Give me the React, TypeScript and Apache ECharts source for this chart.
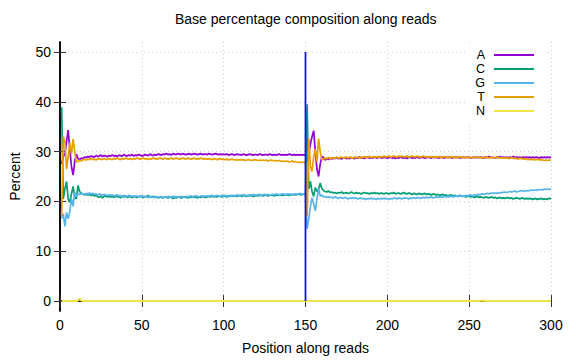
import React, { useEffect, useRef } from 'react';
import * as echarts from 'echarts';

const FONT = "'Liberation Sans', Arial, sans-serif";

const TITLE = 'Base percentage composition along reads';
const X_NAME = 'Position along reads';
const Y_NAME = 'Percent';
const BASES = ['A', 'C', 'G', 'T', 'N'];
const COLORS = ['#9400d3', '#009e73', '#56b4e9', '#e69f00', '#f0e442'];
const Y_TICKS = [0, 10, 20, 30, 40, 50];
const DIVIDER_X = 150;
const DIVIDER_Y = [0, 50];

const A_VALUES = [
  27.5, 29.0, 29.5, 32.0, 34.3, 30.5, 27.0, 25.3, 28.0, 29.5, 28.6, 28.4, 28.7, 28.6, 28.9,
  28.8, 29.0, 28.9, 29.1, 29.0, 28.9, 29.2, 29.0, 29.1, 29.3, 29.0, 29.2, 29.1, 29.0, 29.2,
  29.1, 29.3, 29.1, 29.2, 29.0, 29.3, 29.2, 29.1, 29.4, 29.2, 29.1, 29.3, 29.2, 29.4, 29.1,
  29.3, 29.2, 29.4, 29.3, 29.1, 29.2, 29.4, 29.3, 29.2, 29.5, 29.3, 29.2, 29.4, 29.3, 29.5,
  29.4, 29.3, 29.5, 29.4, 29.6, 29.4, 29.5, 29.3, 29.6, 29.5, 29.4, 29.6, 29.5, 29.4, 29.6,
  29.5, 29.4, 29.5, 29.6, 29.4, 29.5, 29.6, 29.5, 29.4, 29.5, 29.6, 29.4, 29.5, 29.5, 29.4,
  29.6, 29.5, 29.4, 29.5, 29.6, 29.5, 29.4, 29.5, 29.4, 29.5, 29.4, 29.5, 29.3, 29.4, 29.5,
  29.4, 29.3, 29.5, 29.4, 29.4, 29.3, 29.5, 29.4, 29.3, 29.4, 29.5, 29.4, 29.3, 29.4, 29.4,
  29.3, 29.5, 29.4, 29.3, 29.4, 29.4, 29.3, 29.5, 29.4, 29.3, 29.4, 29.3, 29.4, 29.5, 29.3,
  29.4, 29.3, 29.4, 29.3, 29.5, 29.4, 29.3, 29.4, 29.3, 29.4, 29.3, 29.4, 29.3, 29.4, 29.3,
  28.0, 29.5, 31.5, 33.0, 34.2, 30.0, 26.5, 25.0, 27.5, 29.0, 28.8, 28.3, 28.6, 28.4, 28.7,
  28.5, 28.7, 28.6, 28.8, 28.6, 28.7, 28.5, 28.7, 28.8, 28.6, 28.7, 28.6, 28.8, 28.7, 28.6,
  28.8, 28.7, 28.9, 28.7, 28.8, 28.6, 28.8, 28.9, 28.7, 28.8, 28.7, 28.9, 28.8, 28.7, 28.9,
  28.8, 28.7, 28.9, 28.8, 28.7, 28.8, 28.9, 28.7, 28.8, 28.6, 28.8, 28.7, 28.9, 28.8, 28.7,
  28.8, 28.6, 28.8, 28.9, 28.7, 28.8, 28.7, 28.9, 28.8, 28.7, 28.9, 28.8, 28.7, 28.8, 28.9,
  28.8, 28.7, 28.9, 28.8, 28.9, 28.7, 28.8, 28.9, 28.8, 28.7, 28.9, 28.8, 28.9, 28.8, 28.7,
  28.9, 28.8, 28.9, 28.8, 28.7, 28.9, 28.8, 28.9, 28.8, 28.9, 28.7, 28.8, 28.9, 28.8, 28.9,
  28.8, 28.9, 28.8, 28.7, 28.9, 28.8, 29.0, 28.8, 28.9, 28.8, 28.7, 28.9, 28.8, 29.0, 28.8,
  28.9, 28.8, 28.9, 28.7, 28.9, 28.8, 29.0, 28.8, 28.9, 28.8, 28.9, 28.7, 28.9, 28.8, 28.9,
  28.8, 28.9, 28.7, 28.9, 28.8, 28.9, 28.8, 28.7, 28.9, 28.8, 28.9, 28.8, 28.9, 28.8, 28.9,
];

const C_VALUES = [
  38.9, 20.5, 22.5, 24.0, 20.5, 19.8, 21.5, 23.0, 20.8, 20.5, 23.2, 22.0, 21.6, 21.5, 21.3,
  21.5, 21.3, 21.4, 21.2, 21.3, 21.1, 21.2, 21.0, 20.8, 21.1, 20.7, 21.0, 21.1, 20.9, 21.0,
  20.9, 21.0, 20.8, 21.1, 20.9, 21.0, 20.7, 21.0, 20.9, 21.1, 20.8, 20.9, 21.0, 20.8, 20.9,
  21.0, 20.8, 20.9, 21.1, 20.9, 20.8, 21.0, 20.9, 21.2, 20.8, 20.9, 21.0, 20.8, 20.9, 20.7,
  20.9, 20.8, 20.7, 20.9, 20.8, 20.7, 20.9, 20.8, 20.6, 20.8, 20.7, 20.9, 20.8, 20.7, 20.8,
  20.9, 20.8, 20.7, 20.9, 20.8, 21.0, 20.8, 20.9, 20.7, 20.9, 20.8, 21.0, 20.9, 20.8, 20.9,
  21.0, 20.9, 21.1, 20.9, 21.0, 20.9, 21.1, 21.0, 20.9, 21.1, 21.0, 20.9, 21.1, 21.0, 21.2,
  21.0, 21.1, 21.0, 21.2, 21.1, 21.0, 21.2, 21.1, 21.0, 21.2, 21.1, 21.2, 21.0, 21.1, 21.2,
  21.1, 21.2, 21.3, 21.1, 21.2, 21.3, 21.1, 21.2, 21.3, 21.2, 21.1, 21.3, 21.2, 21.3, 21.2,
  21.3, 21.2, 21.4, 21.3, 21.2, 21.4, 21.3, 21.4, 21.3, 21.4, 21.5, 21.3, 21.4, 21.5, 21.4,
  39.5, 22.5, 24.0, 22.0, 21.0, 22.8, 22.0, 22.5, 23.7, 22.6, 22.2, 22.0, 21.9, 22.1, 21.8,
  21.9, 21.7, 21.8, 21.6, 21.8, 21.7, 21.9, 21.6, 21.7, 21.8, 21.6, 21.7, 21.9, 21.7, 21.6,
  21.8, 21.6, 21.7, 21.5, 21.7, 21.8, 21.6, 21.7, 21.5, 21.7, 21.6, 21.8, 21.6, 21.7, 21.5,
  21.7, 21.6, 21.5, 21.7, 21.6, 21.5, 21.7, 21.6, 21.8, 21.5, 21.6, 21.7, 21.5, 21.6, 21.8,
  21.6, 21.5, 21.7, 21.6, 21.4, 21.6, 21.5, 21.4, 21.6, 21.5, 21.4, 21.5, 21.6, 21.4, 21.5,
  21.4, 21.3, 21.5, 21.4, 21.3, 21.4, 21.2, 21.3, 21.4, 21.2, 21.3, 21.1, 21.2, 21.3, 21.1,
  21.2, 21.1, 21.0, 21.2, 21.1, 21.0, 21.1, 20.9, 21.0, 21.1, 20.9, 21.0, 20.8, 20.9, 21.0,
  20.8, 20.9, 20.8, 20.7, 20.9, 20.8, 20.7, 20.8, 20.9, 20.7, 20.8, 20.6, 20.7, 20.8, 20.6,
  20.7, 20.6, 20.8, 20.7, 20.6, 20.7, 20.5, 20.6, 20.7, 20.6, 20.5, 20.7, 20.6, 20.5, 20.6,
  20.5, 20.6, 20.5, 20.4, 20.6, 20.5, 20.4, 20.5, 20.6, 20.4, 20.5, 20.4, 20.5, 20.6, 20.5,
];

const G_VALUES = [
  16.6, 17.5, 15.0, 17.8, 16.5, 18.0, 20.5, 19.0, 21.8, 21.0, 21.5, 21.4, 21.6, 21.5, 21.4,
  21.6, 21.5, 21.7, 21.5, 21.6, 21.4, 21.5, 21.3, 21.5, 21.4, 21.2, 21.4, 21.3, 21.2, 21.3,
  21.2, 21.3, 21.1, 21.2, 21.3, 21.1, 21.2, 21.0, 21.2, 21.1, 21.0, 21.2, 21.1, 21.0, 21.1,
  21.0, 21.1, 20.9, 21.0, 21.1, 21.0, 20.9, 21.0, 20.8, 21.0, 20.9, 20.8, 21.0, 20.9, 20.8,
  20.9, 21.0, 20.8, 20.9, 20.8, 21.0, 20.9, 20.8, 21.0, 20.9, 21.0, 20.8, 20.9, 21.0, 20.9,
  20.8, 21.0, 20.9, 21.0, 21.1, 20.9, 21.0, 21.1, 21.0, 20.9, 21.1, 21.0, 21.1, 21.0, 21.1,
  21.0, 21.1, 21.2, 21.0, 21.1, 21.2, 21.1, 21.0, 21.2, 21.1, 21.2, 21.1, 21.0, 21.2, 21.1,
  21.2, 21.1, 21.3, 21.2, 21.1, 21.3, 21.2, 21.3, 21.1, 21.2, 21.3, 21.2, 21.4, 21.3, 21.2,
  21.3, 21.4, 21.2, 21.3, 21.4, 21.3, 21.4, 21.2, 21.3, 21.4, 21.3, 21.5, 21.4, 21.3, 21.4,
  21.5, 21.4, 21.3, 21.5, 21.4, 21.5, 21.3, 21.4, 21.5, 21.4, 21.5, 21.6, 21.4, 21.5, 21.3,
  14.5, 16.5, 19.0, 20.7, 19.5, 18.1, 20.5, 22.7, 21.0, 21.3, 20.9, 21.0, 20.8, 20.9, 20.8,
  20.8, 20.7, 20.9, 20.8, 20.6, 20.8, 20.7, 20.6, 20.8, 20.7, 20.5, 20.7, 20.6, 20.8, 20.6,
  20.7, 20.5, 20.6, 20.7, 20.5, 20.6, 20.4, 20.6, 20.5, 20.7, 20.5, 20.6, 20.4, 20.6, 20.5,
  20.6, 20.5, 20.7, 20.5, 20.6, 20.4, 20.6, 20.5, 20.7, 20.6, 20.5, 20.7, 20.6, 20.5, 20.7,
  20.6, 20.7, 20.5, 20.7, 20.6, 20.8, 20.6, 20.7, 20.8, 20.6, 20.7, 20.8, 20.7, 20.9, 20.7,
  20.8, 20.9, 20.7, 20.8, 20.9, 20.8, 21.0, 20.8, 20.9, 21.0, 20.9, 21.0, 20.9, 21.1, 20.9,
  21.0, 21.1, 21.0, 21.2, 21.0, 21.1, 21.0, 21.2, 21.1, 21.2, 21.3, 21.1, 21.3, 21.2, 21.4,
  21.3, 21.4, 21.5, 21.4, 21.5, 21.6, 21.5, 21.6, 21.7, 21.6, 21.7, 21.6, 21.8, 21.7, 21.8,
  21.8, 21.9, 21.8, 21.9, 22.0, 21.9, 22.0, 22.1, 21.9, 22.0, 22.1, 22.2, 22.0, 22.1, 22.2,
  22.1, 22.2, 22.3, 22.2, 22.3, 22.2, 22.4, 22.3, 22.4, 22.3, 22.5, 22.4, 22.5, 22.4, 22.6,
];

const T_VALUES = [
  17.0, 33.0, 32.0, 26.5, 29.0, 31.8, 29.5, 32.5, 30.0, 28.0, 28.0, 28.2, 28.1, 28.4, 28.4,
  28.3, 28.5, 28.4, 28.6, 28.4, 28.5, 28.3, 28.5, 28.6, 28.4, 28.5, 28.6, 28.4, 28.5, 28.6,
  28.5, 28.4, 28.6, 28.5, 28.7, 28.5, 28.4, 28.6, 28.5, 28.7, 28.6, 28.5, 28.6, 28.4, 28.6,
  28.5, 28.7, 28.6, 28.5, 28.6, 28.7, 28.5, 28.6, 28.4, 28.6, 28.5, 28.7, 28.6, 28.5, 28.6,
  28.7, 28.6, 28.5, 28.7, 28.6, 28.5, 28.6, 28.7, 28.5, 28.6, 28.7, 28.6, 28.5, 28.6, 28.7,
  28.6, 28.5, 28.7, 28.6, 28.5, 28.6, 28.7, 28.5, 28.6, 28.5, 28.7, 28.6, 28.5, 28.6, 28.5,
  28.6, 28.5, 28.4, 28.6, 28.5, 28.4, 28.5, 28.6, 28.4, 28.5, 28.4, 28.5, 28.3, 28.4, 28.5,
  28.4, 28.3, 28.4, 28.3, 28.4, 28.3, 28.4, 28.2, 28.3, 28.4, 28.3, 28.2, 28.3, 28.4, 28.3,
  28.2, 28.3, 28.2, 28.3, 28.2, 28.3, 28.1, 28.2, 28.3, 28.2, 28.1, 28.2, 28.1, 28.2, 28.1,
  28.0, 28.1, 28.0, 28.1, 27.9, 28.0, 28.1, 27.9, 28.0, 27.9, 27.8, 27.9, 27.8, 27.9, 27.8,
  17.0, 32.6, 27.0, 26.0, 29.0, 30.5, 28.0, 32.6, 30.0, 28.3, 28.5, 28.7, 28.6, 28.8, 28.6,
  28.7, 28.8, 28.6, 28.9, 28.7, 28.8, 28.9, 28.7, 28.8, 28.9, 28.7, 28.9, 28.8, 28.7, 28.9,
  28.8, 28.9, 28.7, 28.9, 28.8, 29.0, 28.8, 28.9, 29.0, 28.8, 28.9, 29.0, 28.8, 29.0, 28.9,
  29.0, 28.9, 29.1, 28.9, 29.0, 29.1, 28.9, 29.0, 29.1, 29.0, 28.9, 29.1, 29.0, 29.1, 28.9,
  29.0, 29.1, 28.9, 29.0, 29.1, 29.0, 28.9, 29.1, 29.0, 28.9, 29.0, 29.1, 28.9, 29.0, 28.9,
  29.0, 28.9, 29.0, 28.8, 29.0, 28.9, 29.0, 28.8, 28.9, 29.0, 28.9, 28.8, 28.9, 29.0, 28.8,
  28.9, 28.8, 28.9, 29.0, 28.8, 28.9, 28.8, 28.9, 28.8, 28.9, 28.7, 28.9, 28.8, 28.9, 28.8,
  28.9, 28.8, 28.7, 28.9, 28.8, 28.9, 28.7, 28.8, 28.9, 28.7, 28.8, 28.9, 28.7, 28.8, 28.7,
  28.8, 28.7, 28.8, 28.6, 28.7, 28.8, 28.6, 28.7, 28.6, 28.5, 28.7, 28.6, 28.5, 28.6, 28.5,
  28.4, 28.5, 28.4, 28.5, 28.3, 28.4, 28.5, 28.3, 28.4, 28.3, 28.2, 28.3, 28.2, 28.3, 28.2,
];

const N_VALUES = [
  0, 0, 0, 0, 0, 0, 0, 0, 0, 0, 0.1, 0.5, 0.1, 0, 0,
  0, 0, 0, 0, 0, 0, 0, 0, 0, 0, 0, 0, 0, 0, 0,
  0, 0, 0, 0, 0, 0, 0, 0, 0, 0, 0, 0, 0, 0, 0,
  0, 0, 0, 0, 0, 0, 0, 0, 0, 0, 0, 0, 0, 0, 0,
  0, 0, 0, 0, 0, 0, 0, 0, 0, 0, 0, 0, 0, 0, 0,
  0, 0, 0, 0, 0, 0, 0, 0, 0, 0, 0, 0, 0, 0, 0,
  0, 0, 0, 0, 0, 0, 0, 0, 0, 0, 0, 0, 0, 0, 0,
  0, 0, 0, 0, 0, 0, 0, 0, 0, 0, 0, 0, 0, 0, 0,
  0, 0, 0, 0, 0, 0, 0, 0, 0, 0, 0, 0, 0, 0, 0,
  0, 0, 0, 0, 0, 0, 0, 0, 0, 0, 0, 0, 0, 0, 0,
  0, 0, 0, 0, 0, 0, 0, 0, 0, 0, 0, 0, 0, 0, 0,
  0, 0, 0, 0, 0, 0, 0, 0, 0, 0, 0, 0, 0, 0, 0,
  0, 0, 0, 0, 0, 0, 0, 0, 0, 0, 0, 0, 0, 0, 0,
  0, 0, 0, 0, 0, 0, 0, 0, 0, 0, 0, 0, 0, 0, 0,
  0, 0, 0, 0, 0, 0, 0, 0, 0, 0, 0, 0, 0, 0, 0,
  0, 0, 0, 0, 0, 0, 0, 0, 0, 0, 0, 0, 0, 0, 0,
  0, 0, 0, 0, 0, 0, 0, 0, 0, 0, 0, 0, 0, 0, 0,
  0, 0.05, 0.1, 0.05, 0, 0, 0, 0, 0, 0, 0, 0, 0, 0, 0,
  0, 0, 0, 0, 0, 0, 0, 0, 0, 0, 0, 0, 0, 0, 0,
  0, 0, 0, 0, 0, 0, 0, 0, 0, 0, 0, 0, 0, 0, 0,
];

const SERIES_VALUES = [A_VALUES, C_VALUES, G_VALUES, T_VALUES, N_VALUES];
const POSITIONS = A_VALUES.map((_, i) => i + 1);

function buildOption(): any {
  const lineSeries = BASES.map((name, k) => ({
    name,
    type: 'line',
    xAxisIndex: 0,
    yAxisIndex: 0,
    data: POSITIONS.map((p, i) => [p, SERIES_VALUES[k][i]]),
    symbol: 'none',
    showSymbol: false,
    color: COLORS[k],
    itemStyle: { color: COLORS[k] },
    lineStyle: { color: COLORS[k], width: k === 4 ? 2 : 1.7 },
    z: 2 + k * 0.1,
    silent: true,
  }));
  const divider = {
    name: 'divider',
    type: 'line',
    xAxisIndex: 0,
    yAxisIndex: 0,
    data: DIVIDER_Y.map((y) => [DIVIDER_X, y]),
    symbol: 'none',
    color: '#0000ff',
    lineStyle: { color: '#1010ff', width: 1.8 },
    z: 3,
    silent: true,
  };
  const axisLine = { show: true, lineStyle: { color: '#000', width: 1.5 } };
  const tick = { show: true, inside: true, length: 6, lineStyle: { color: '#333', width: 1 } };
  const split = { show: true, lineStyle: { color: '#cccccc', width: 1, type: [1, 3] } };
  const label = { color: '#000', fontSize: 14, fontFamily: FONT };
  return {
    animation: false,
    backgroundColor: '#fff',
    title: {
      text: TITLE,
      left: 175,
      top: 12,
      padding: 0,
      textStyle: { fontSize: 14, fontWeight: 'normal', color: '#000', fontFamily: FONT },
    },
    grid: { left: 60, right: 25, top: 42, bottom: 46, containLabel: false },
    legend: {
      data: BASES,
      orient: 'vertical',
      right: 28,
      top: 43,
      align: 'right',
      icon: 'rect',
      itemWidth: 40,
      itemHeight: 2,
      itemGap: 0,
      backgroundColor: '#fff',
      padding: [5, 14, 6, 8],
      textStyle: {
        fontSize: 12.5,
        lineHeight: 14,
        height: 14,
        color: '#000',
        fontFamily: FONT,
        padding: [0, 4, 0, 0],
      },
      selectedMode: false,
    },
    xAxis: [
      {
        type: 'value',
        min: 0,
        max: 300,
        interval: 50,
        position: 'bottom',
        name: X_NAME,
        nameLocation: 'middle',
        nameGap: 30,
        nameTextStyle: { fontSize: 14, color: '#000', fontFamily: FONT },
        axisLine,
        axisTick: tick,
        axisLabel: { ...label, margin: 7 },
        splitLine: split,
      },
      {
        type: 'value',
        min: 0,
        max: 300,
        interval: 50,
        position: 'top',
        axisLine,
        axisTick: tick,
        axisLabel: { show: false },
        splitLine: { show: false },
      },
    ],
    yAxis: [
      {
        type: 'value',
        min: -2,
        max: 52,
        position: 'left',
        name: Y_NAME,
        nameLocation: 'middle',
        nameGap: 38,
        nameTextStyle: { fontSize: 14, color: '#000', fontFamily: FONT },
        axisLine,
        axisTick: { ...tick, customValues: Y_TICKS },
        axisLabel: { ...label, margin: 9, customValues: Y_TICKS },
        splitLine: split,
      },
      {
        type: 'value',
        min: -2,
        max: 52,
        position: 'right',
        axisLine,
        axisTick: { ...tick, customValues: Y_TICKS },
        axisLabel: { show: false, customValues: Y_TICKS },
        splitLine: { show: false },
      },
    ],
    series: [...lineSeries, divider],
  };
}

export default function App() {
  const ref = useRef<HTMLDivElement>(null);
  useEffect(() => {
    if (!ref.current) return;
    const chart = echarts.init(ref.current, null, { renderer: 'svg' });
    chart.setOption(buildOption());
    return () => chart.dispose();
  }, []);
  return (
    <div
      ref={ref}
      style={{ position: 'fixed', left: 0, top: 0, width: 576, height: 360, background: '#fff' }}
    />
  );
}
